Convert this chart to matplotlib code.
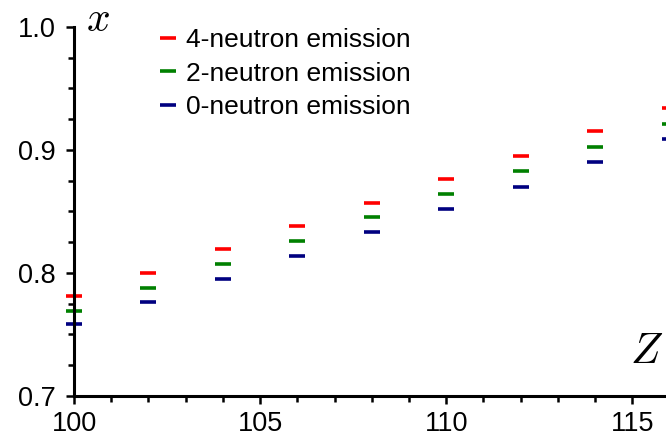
import numpy as np
import matplotlib
matplotlib.use('Agg')
import matplotlib.pyplot as plt
from matplotlib.ticker import MultipleLocator

plt.rcParams['font.family'] = ['Liberation Sans', 'DejaVu Sans']
plt.rcParams['mathtext.fontset'] = 'cm'

Z = [100, 102, 104, 106, 108, 110, 112, 114, 116]
x_4n = [0.781, 0.800, 0.819, 0.838, 0.857, 0.876, 0.895, 0.915, 0.934]
x_2n = [0.769, 0.788, 0.807, 0.826, 0.845, 0.864, 0.883, 0.902, 0.921]
x_0n = [0.758, 0.776, 0.795, 0.814, 0.833, 0.852, 0.870, 0.890, 0.909]

labels = ['4-neutron emission', '2-neutron emission', '0-neutron emission']
colors = ['#ff0000', '#008000', '#000080']

fig = plt.figure(figsize=(6.66, 4.36), dpi=100)
ax = fig.add_axes([74/666, 40.3/436, 670/666, 368.7/436])

for ys, lab, c in zip([x_4n, x_2n, x_0n], labels, colors):
    ax.plot(Z, ys, linestyle='none', marker='_', markersize=11.5,
            markeredgewidth=2.6, color=c, label=lab, clip_on=False)

ax.set_xlim(100, 118)
ax.set_ylim(0.7, 1.0)
ax.xaxis.set_major_locator(MultipleLocator(5))
ax.xaxis.set_minor_locator(MultipleLocator(1))
ax.yaxis.set_major_locator(MultipleLocator(0.1))
ax.yaxis.set_minor_locator(MultipleLocator(0.025))
ax.yaxis.set_major_formatter(plt.FuncFormatter(lambda v, p: f'{v:.1f}'))

for s in ['top', 'right']:
    ax.spines[s].set_visible(False)
for s in ['left', 'bottom']:
    ax.spines[s].set_linewidth(2.2)
ax.tick_params(which='major', length=6, width=1.8, labelsize=19.5)
ax.tick_params(which='minor', length=4, width=1.8)
ax.tick_params(axis='x', which='major', pad=5)
ax.tick_params(axis='y', which='major', pad=7)

fig.text(98/666, 1 - 20/436, r'$x$', fontsize=30, ha='center', va='center')
fig.text(647/666, 1 - 352/436, r'$Z$', fontsize=31, ha='center', va='center')

ax.legend(loc='upper left', bbox_to_anchor=(160/666, 1 - 28/436),
          bbox_transform=fig.transFigure, frameon=False, fontsize=19,
          numpoints=1, handlelength=0.6, handletextpad=0.4,
          labelspacing=0.36, borderpad=0, borderaxespad=0)

fig.savefig('out.png', dpi=100)
